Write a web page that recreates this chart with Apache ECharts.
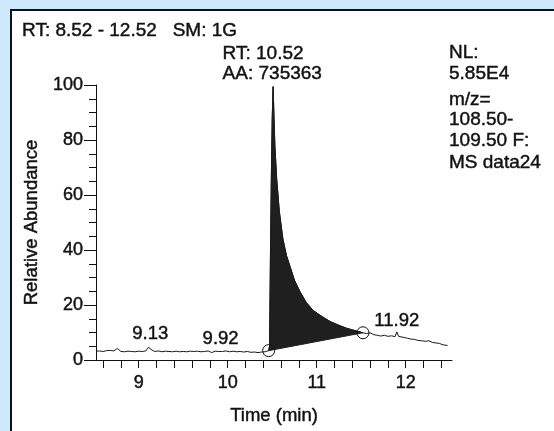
<!DOCTYPE html>
<html>
<head>
<meta charset="utf-8">
<script src="https://cdn.jsdelivr.net/npm/echarts@6/dist/echarts.min.js"></script>
<style>
html,body{margin:0;padding:0;background:#cde9fb;}
#chart{width:554px;height:431px;}
</style>
</head>
<body>
<div id="chart"></div>
<script>
// ---- data ----
const times = [8.52,8.56,8.60,8.64,8.68,8.72,8.76,8.78,8.80,8.84,8.88,8.92,8.96,9.00,9.04,9.08,9.11,9.13,9.15,9.18,9.22,9.26,9.30,9.34,9.38,9.42,9.46,9.50,9.54,9.58,9.62,9.66,9.70,9.74,9.78,9.82,9.86,9.90,9.92,9.94,9.98,10.02,10.06,10.10,10.14,10.18,10.22,10.26,10.30,10.34,10.38,10.42,10.46,10.47,10.48,10.49,10.50,10.51,10.52,10.53,10.55,10.58,10.62,10.66,10.70,10.75,10.81,10.88,10.96,11.05,11.15,11.25,11.34,11.44,11.52,11.56,11.60,11.64,11.68,11.72,11.76,11.80,11.84,11.88,11.90,11.92,11.94,11.98,12.02,12.06,12.10,12.14,12.18,12.22,12.26,12.30,12.34,12.38,12.42,12.47];
const abundance = [3.2,3.3,3.1,3.4,3.5,3.3,4.2,3.6,3.1,3.0,3.2,3.1,3.0,3.2,3.1,3.3,4.6,5.2,3.6,3.1,3.3,3.0,3.2,3.1,3.0,3.2,3.0,3.1,3.0,3.2,3.1,3.2,3.0,3.1,3.3,2.7,3.2,3.1,3.4,3.1,3.3,3.0,3.2,3.0,3.1,2.9,3.1,2.8,2.9,2.7,2.9,3.0,3.4,5,38,66,88,99.4,88,78,66,54,44,38,34,29,25,21,18,16,14,12.6,11.5,10.6,9.9,9.6,9.9,9.2,9.0,8.7,9.0,8.6,8.8,8.5,10.2,8.6,9.0,8.2,7.9,7.6,7.5,7.1,7.0,6.8,7.0,6.4,6.2,6.0,5.5,5.3];

const fillStart = 10.46, fillEnd = 11.52;          // integration limits
const circleTimes = [10.46, 11.52];
const circleValues = [3.4, 9.9];

const peakTimes  = [9.13, 9.92, 11.90];
const peakValues = [5.2, 3.4, 10.2];
const peakTexts  = ['9.13', '9.92', '11.92'];

const apexTime = 10.51, apexValue = 99.4;
const apexTexts = ['RT: 10.52', 'AA: 735363'];

const xMin = 8.52, xMax = 12.52;
const xTickValues = [8.6,8.8,9.0,9.2,9.4,9.6,9.8,10.0,10.2,10.4,10.6,10.8,11.0,11.2,11.4,11.6,11.8,12.0,12.2,12.4];
const xLabelValues = [9,10,11,12];
const yMin = 0, yMax = 100, yInterval = 20;

const titleText = 'RT: 8.52 - 12.52   SM: 1G';
const infoLines = ['NL:', '5.85E4', 'm/z=', '108.50-', '109.50 F:', 'MS data24'];

// ---- chart ----
const FONT = "'Liberation Sans', Arial, sans-serif";
const INK = '#111';
const BW = 0.45;   // slight stroke to mimic the heavier scanned type
const chart = echarts.init(document.getElementById('chart'), null, {renderer: 'canvas'});
const tracePts = times.map((t, i) => [t, abundance[i]]);
const infoY = [53, 74, 100, 120, 141, 163];

function txt(extra) {
  return Object.assign({fontFamily: FONT, color: INK, textBorderColor: INK, textBorderWidth: BW}, extra);
}

const option = {
  animation: false,
  backgroundColor: '#cde9fb',
  graphic: [
    {type: 'rect', z: -10, shape: {x: 11, y: 10, width: 600, height: 500},
     style: {fill: '#ffffff', stroke: '#111', lineWidth: 2}},
    {type: 'text', x: 22, y: 31, z: 10,
     style: {text: titleText, font: '19px ' + FONT, fill: INK, stroke: INK, lineWidth: BW, verticalAlign: 'middle'}}
  ].concat(infoLines.map((s, i) => ({
     type: 'text', x: 449, y: infoY[i], z: 10,
     style: {text: s, font: '19px ' + FONT, fill: INK, stroke: INK, lineWidth: BW, verticalAlign: 'middle'}
  }))),
  grid: {left: 96, right: 102, top: 85, bottom: 71, containLabel: false},
  xAxis: {
    type: 'value', min: xMin, max: xMax,
    name: 'Time (min)', nameLocation: 'middle', nameGap: 46,
    nameTextStyle: txt({fontSize: 18.5}),
    axisLine: {lineStyle: {color: INK, width: 1}},
    axisTick: {show: true, customValues: xTickValues, length: 8, lineStyle: {color: INK, width: 1}},
    axisLabel: txt({customValues: xLabelValues, margin: 14, fontSize: 18}),
    splitLine: {show: false}
  },
  yAxis: {
    type: 'value', min: yMin, max: yMax, interval: yInterval,
    name: 'Relative Abundance', nameLocation: 'middle', nameGap: 47, nameRotate: 90,
    nameTextStyle: txt({fontSize: 18.5}),
    axisLine: {show: true, lineStyle: {color: INK, width: 1}},
    axisTick: {show: true, length: 12, lineStyle: {color: INK, width: 1}},
    minorTick: {show: true, splitNumber: 4, length: 7, lineStyle: {color: INK, width: 1}},
    axisLabel: txt({margin: 13, fontSize: 18}),
    splitLine: {show: false}, minorSplitLine: {show: false}
  },
  series: [
    {
      type: 'custom', z: 2, clip: true,
      data: [[fillStart, fillEnd]],
      renderItem: function (params, api) {
        const pts = tracePts.filter(p => p[0] >= fillStart && p[0] <= fillEnd).map(p => api.coord(p));
        return {type: 'polygon', shape: {points: pts}, style: {fill: '#1f1f1f', stroke: '#1f1f1f', lineWidth: 1, lineJoin: 'bevel'}};
      }
    },
    {
      type: 'line', z: 3, data: tracePts, symbol: 'none', smooth: false,
      lineStyle: {color: '#1a1a1a', width: 1, join: 'bevel'}
    },
    {
      type: 'scatter', z: 4, symbol: 'circle', symbolSize: 12,
      data: circleTimes.map((t, i) => [t, circleValues[i]]),
      itemStyle: {color: 'rgba(0,0,0,0)', borderColor: INK, borderWidth: 1, opacity: 1}
    },
    {
      type: 'scatter', z: 5, symbolSize: 0, itemStyle: {opacity: 1},
      data: peakTimes.map((t, i) => ({value: [t, peakValues[i]], label: {formatter: peakTexts[i]}})),
      label: txt({show: true, position: 'top', distance: 2, fontSize: 18.5})
    },
    {
      type: 'scatter', z: 5, symbolSize: 0, itemStyle: {opacity: 1},
      data: [[apexTime, apexValue]],
      label: {show: true, position: 'top', distance: 3,
        formatter: apexTexts.map(s => '{a|' + s + '}').join('\n'),
        rich: {a: txt({width: 101, align: 'left', fontSize: 19, lineHeight: 20})}}
    }
  ]
};
chart.setOption(option);
</script>
</body>
</html>
